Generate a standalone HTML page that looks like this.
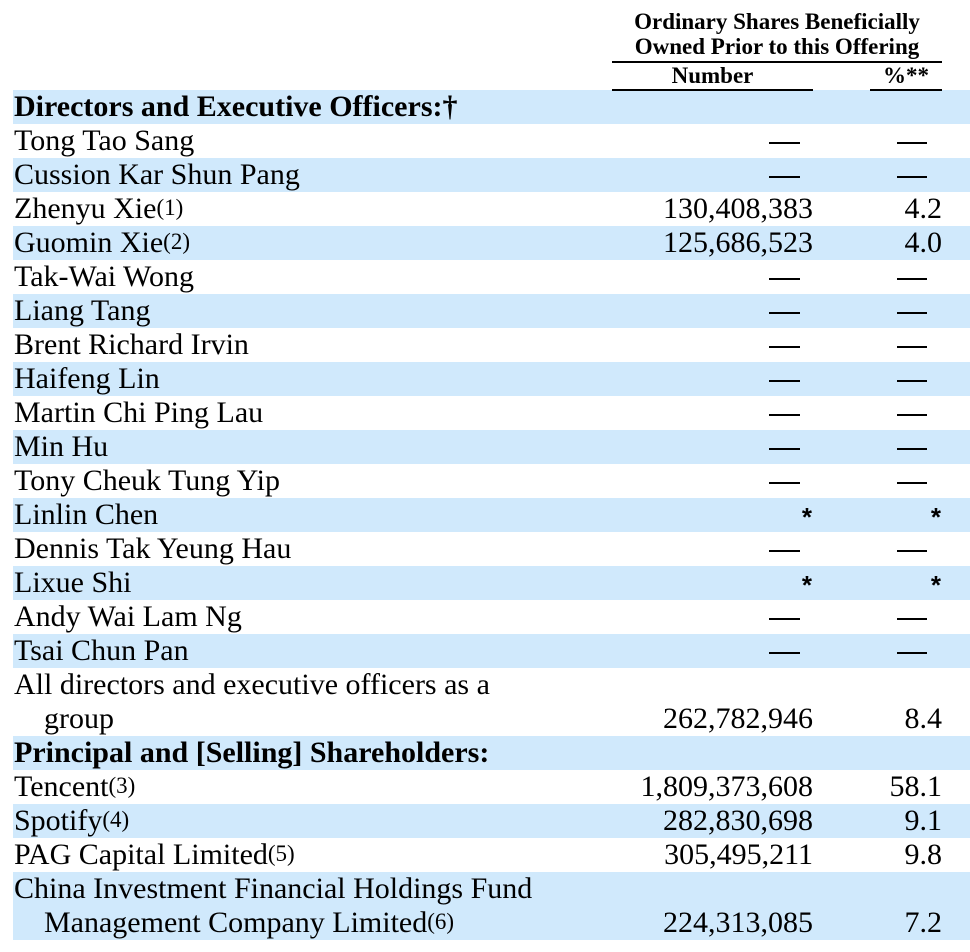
<!DOCTYPE html>
<html><head><meta charset="utf-8"><style>
body{margin:0;width:970px;height:952px;background:#fff;position:relative;overflow:hidden;font-family:"Liberation Serif","Times New Roman",serif;color:#000}
.b{position:absolute;left:13px;width:957px;height:34px;background:#d0e9fc}
.t{position:absolute;font-size:30px;line-height:34px;white-space:nowrap}
.n{position:absolute;right:157px;font-size:30px;line-height:34px;text-align:right;white-space:nowrap}
.p{position:absolute;right:28px;font-size:30px;line-height:34px;text-align:right;white-space:nowrap}
.d{position:absolute;height:2px;background:#000}
sup{font-size:23px;vertical-align:0;position:relative;top:-3px}
.h{position:absolute;font-weight:bold;font-size:23px;line-height:26px;text-align:center;white-space:nowrap}
.ast{font-family:"Liberation Sans",sans-serif;font-size:26px;font-weight:bold}
</style></head><body>
<div class="b" style="top:90px"></div>
<div class="b" style="top:158px"></div>
<div class="b" style="top:226px"></div>
<div class="b" style="top:294px"></div>
<div class="b" style="top:362px"></div>
<div class="b" style="top:430px"></div>
<div class="b" style="top:498px"></div>
<div class="b" style="top:566px"></div>
<div class="b" style="top:634px"></div>
<div class="b" style="top:736px"></div>
<div class="b" style="top:804px"></div>
<div class="b" style="top:872px;height:68px"></div>

<div class="h" style="left:612px;width:330px;top:9px;line-height:25px">Ordinary Shares Beneficially<br>Owned Prior to this Offering</div>
<div class="d" style="left:612px;width:330px;top:61px"></div>
<div class="h" style="left:612px;width:201px;top:63px">Number</div>
<div class="h" style="left:870px;width:72px;top:63px">%**</div>
<div class="d" style="left:612px;width:201px;top:89px"></div>
<div class="d" style="left:870px;width:72px;top:89px"></div>

<div class="t" style="left:14px;top:90px;font-weight:bold">Directors and Executive Officers:†</div>
<div class="t" style="left:14px;top:124px">Tong Tao Sang</div>
<div class="t" style="left:14px;top:158px">Cussion Kar Shun Pang</div>
<div class="t" style="left:14px;top:192px">Zhenyu Xie<sup>(1)</sup></div>
<div class="t" style="left:14px;top:226px">Guomin Xie<sup>(2)</sup></div>
<div class="t" style="left:14px;top:260px">Tak-Wai Wong</div>
<div class="t" style="left:14px;top:294px">Liang Tang</div>
<div class="t" style="left:14px;top:328px">Brent Richard Irvin</div>
<div class="t" style="left:14px;top:362px">Haifeng Lin</div>
<div class="t" style="left:14px;top:396px">Martin Chi Ping Lau</div>
<div class="t" style="left:14px;top:430px">Min Hu</div>
<div class="t" style="left:14px;top:464px">Tony Cheuk Tung Yip</div>
<div class="t" style="left:14px;top:498px">Linlin Chen</div>
<div class="t" style="left:14px;top:532px">Dennis Tak Yeung Hau</div>
<div class="t" style="left:14px;top:566px">Lixue Shi</div>
<div class="t" style="left:14px;top:600px">Andy Wai Lam Ng</div>
<div class="t" style="left:14px;top:634px">Tsai Chun Pan</div>
<div class="t" style="left:14px;top:668px">All directors and executive officers as a</div>
<div class="t" style="left:44px;top:702px">group</div>
<div class="t" style="left:14px;top:736px;font-weight:bold">Principal and [Selling] Shareholders:</div>
<div class="t" style="left:14px;top:770px">Tencent<sup>(3)</sup></div>
<div class="t" style="left:14px;top:804px">Spotify<sup>(4)</sup></div>
<div class="t" style="left:14px;top:838px">PAG Capital Limited<sup>(5)</sup></div>
<div class="t" style="left:14px;top:872px">China Investment Financial Holdings Fund</div>
<div class="t" style="left:44px;top:906px">Management Company Limited<sup>(6)</sup></div>

<div class="d" style="left:769px;width:31px;top:142px;height:1.5px"></div><div class="d" style="left:897px;width:30px;top:142px;height:1.5px"></div>
<div class="d" style="left:769px;width:31px;top:176px;height:1.5px"></div><div class="d" style="left:897px;width:30px;top:176px;height:1.5px"></div>
<div class="n" style="top:192px">130,408,383</div><div class="p" style="top:192px">4.2</div>
<div class="n" style="top:226px">125,686,523</div><div class="p" style="top:226px">4.0</div>
<div class="d" style="left:769px;width:31px;top:278px;height:1.5px"></div><div class="d" style="left:897px;width:30px;top:278px;height:1.5px"></div>
<div class="d" style="left:769px;width:31px;top:312px;height:1.5px"></div><div class="d" style="left:897px;width:30px;top:312px;height:1.5px"></div>
<div class="d" style="left:769px;width:31px;top:346px;height:1.5px"></div><div class="d" style="left:897px;width:30px;top:346px;height:1.5px"></div>
<div class="d" style="left:769px;width:31px;top:380px;height:1.5px"></div><div class="d" style="left:897px;width:30px;top:380px;height:1.5px"></div>
<div class="d" style="left:769px;width:31px;top:414px;height:1.5px"></div><div class="d" style="left:897px;width:30px;top:414px;height:1.5px"></div>
<div class="d" style="left:769px;width:31px;top:448px;height:1.5px"></div><div class="d" style="left:897px;width:30px;top:448px;height:1.5px"></div>
<div class="d" style="left:769px;width:31px;top:482px;height:1.5px"></div><div class="d" style="left:897px;width:30px;top:482px;height:1.5px"></div>
<div class="n ast" style="top:500px;right:158px">*</div><div class="p ast" style="top:500px;right:29px">*</div>
<div class="d" style="left:769px;width:31px;top:550px;height:1.5px"></div><div class="d" style="left:897px;width:30px;top:550px;height:1.5px"></div>
<div class="n ast" style="top:568px;right:158px">*</div><div class="p ast" style="top:568px;right:29px">*</div>
<div class="d" style="left:769px;width:31px;top:618px;height:1.5px"></div><div class="d" style="left:897px;width:30px;top:618px;height:1.5px"></div>
<div class="d" style="left:769px;width:31px;top:652px;height:1.5px"></div><div class="d" style="left:897px;width:30px;top:652px;height:1.5px"></div>
<div class="n" style="top:702px">262,782,946</div><div class="p" style="top:702px">8.4</div>
<div class="n" style="top:770px">1,809,373,608</div><div class="p" style="top:770px">58.1</div>
<div class="n" style="top:804px">282,830,698</div><div class="p" style="top:804px">9.1</div>
<div class="n" style="top:838px">305,495,211</div><div class="p" style="top:838px">9.8</div>
<div class="n" style="top:906px">224,313,085</div><div class="p" style="top:906px">7.2</div>
</body></html>
